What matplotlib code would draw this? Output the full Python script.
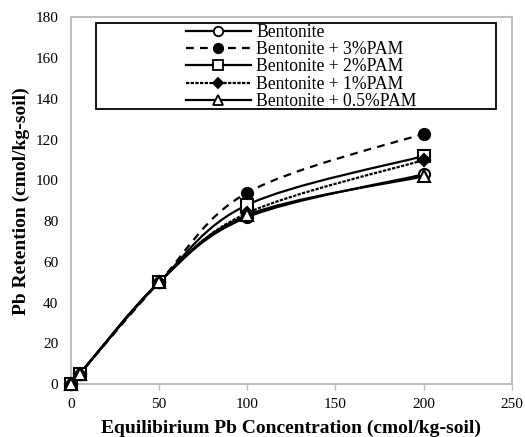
import numpy as np
import matplotlib.pyplot as plt
from matplotlib.path import Path
from matplotlib.patches import PathPatch, Rectangle
from matplotlib.lines import Line2D

plt.rcParams['font.family'] = ['Liberation Serif', 'DejaVu Serif']

# equilibrium concentration and retention
conc = [0, 5, 50, 100, 200]
bentonite = [0, 5, 50, 82, 103]
pam3 = [0, 5, 50, 94, 123]
pam2 = [0, 5, 50, 88, 112]
pam1 = [0, 5, 50, 84, 110]
pam05 = [0, 5, 50, 83, 102]

labels = ['Bentonite', 'Bentonite + 3%PAM', 'Bentonite + 2%PAM',
          'Bentonite + 1%PAM', 'Bentonite + 0.5%PAM']
series = [bentonite, pam3, pam2, pam1, pam05]
markers = ['o', 'o', 's', 'D', '^']
fills = ['white', 'black', 'white', 'black', 'white']
msizes = [8, 8, 8.5, 6, 8]
styles = ['-', (0, (3.5, 2.8)), '-', (0, (1.5, 0.6)), '-']


def smooth_path(x, y):
    # Excel style smoothed line: Catmull-Rom segments as cubic Bezier
    p = np.column_stack([x, y]).astype(float)
    ext = np.vstack([p[0], p, p[-1]])
    verts = [p[0]]
    codes = [Path.MOVETO]
    for i in range(len(p) - 1):
        a, b, c, d = ext[i], ext[i + 1], ext[i + 2], ext[i + 3]
        verts += [b + (c - a) / 6, c - (d - b) / 6, c]
        codes += [Path.CURVE4] * 3
    return Path(verts, codes)


fig = plt.figure(figsize=(5.25, 4.37), dpi=100)
ax = fig.add_axes([0.135, 0.121, 0.84, 0.839])

handles = []
for k, (vals, lab) in enumerate(zip(series, labels)):
    patch = PathPatch(smooth_path(conc, vals), facecolor='none', edgecolor='black',
                      lw=1.6, linestyle=styles[k], zorder=2 + k * 0.1, capstyle='butt')
    ax.add_patch(patch)
    ax.plot(conc, vals, linestyle='none', marker=markers[k], markersize=msizes[k],
            markerfacecolor=fills[k], markeredgecolor='black', markeredgewidth=1.5,
            zorder=4 + k * 0.1, clip_on=False)
    handles.append(Line2D([], [], color='black', lw=1.6, linestyle=styles[k],
                          marker=markers[k], markersize=msizes[k] * 0.85,
                          markerfacecolor=fills[k], markeredgecolor='black',
                          markeredgewidth=1.3))

ax.set_xlim(0, 250)
ax.set_ylim(0, 180)
ax.set_xticks(np.arange(0, 251, 50))
ax.set_yticks(np.arange(0, 181, 20))
for s in ax.spines.values():
    s.set_color('#BFBFBF')
    s.set_linewidth(1.5)
ax.tick_params(axis='x', length=4, width=1, color='#BFBFBF', labelsize=11, pad=6)
ax.tick_params(axis='y', length=0, labelsize=11, pad=9)

ax.set_xlabel('Equilibirium Pb Concentration (cmol/kg-soil)', fontsize=14,
              fontweight='bold', labelpad=6)
ax.set_ylabel('Pb Retention (cmol/kg-soil)', fontsize=14, fontweight='bold',
              labelpad=4)

leg = ax.legend(handles, labels, loc='center', bbox_to_anchor=(0.522, 0.865),
                frameon=False, fontsize=12.7, handlelength=3.7, handletextpad=0.3,
                labelspacing=0.02, borderpad=0)
ax.add_patch(Rectangle((0.057, 0.75), 0.907, 0.234, transform=ax.transAxes,
                       facecolor='white', edgecolor='black', lw=1.3, zorder=5))
leg.set_zorder(6)

fig.savefig('out.png', dpi=100)
